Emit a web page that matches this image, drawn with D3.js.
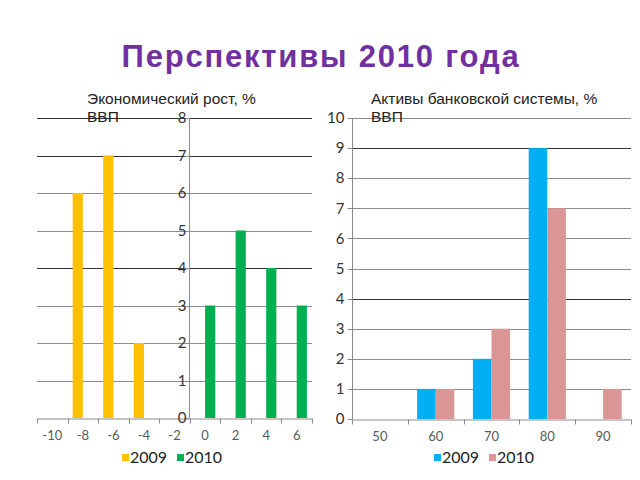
<!DOCTYPE html>
<html>
<head>
<meta charset="utf-8">
<script src="https://cdn.jsdelivr.net/npm/d3@7"></script>
<style>
  body { margin: 0; background: #fff; }
  svg text { font-family: Lato, "Open Sans", sans-serif; }
</style>
</head>
<body>
<div id="chart"></div>
<script>
// Economic growth histogram
var growthCats = ["-10", "-8", "-6", "-4", "-2", "0", "2", "4", "6"];
var growth2009 = [0, 6, 7, 2, 0, 0, 0, 0, 0];
var growth2010 = [0, 0, 0, 0, 0, 3, 5, 4, 3];
var growthTicks = [0, 1, 2, 3, 4, 5, 6, 7, 8];

// Bank assets histogram
var assetCats = ["50", "60", "70", "80", "90"];
var assets2009 = [0, 1, 2, 9, 0];
var assets2010 = [0, 1, 3, 7, 1];
var assetTicks = [0, 1, 2, 3, 4, 5, 6, 7, 8, 9, 10];

var seriesNames = ["2009", "2010"];

var width = 640, height = 480;

var svg = d3.select("#chart").append("svg")
    .attr("width", width)
    .attr("height", height);

svg.append("text")
    .attr("x", 321)
    .attr("y", 67)
    .attr("text-anchor", "middle")
    .style("font-family", "'Liberation Sans', Arial, sans-serif")
    .style("font-weight", "bold")
    .style("font-size", "31px")
    .style("letter-spacing", "1.8px")
    .attr("fill", "#7030a0")
    .text("Перспективы 2010 года");

function drawChart(opt) {
    var g = svg.append("g");

    var x = d3.scaleBand()
        .domain(opt.cats)
        .range([opt.x0, opt.x1]);

    var y = d3.scaleLinear()
        .domain([0, d3.max(opt.ticks)])
        .range([opt.y0, opt.y1]);

    var inner = d3.scaleBand()
        .domain(seriesNames)
        .range([0, x.bandwidth()])
        .paddingInner(0)
        .paddingOuter(0.5);

    // gridlines
    g.append("g").selectAll("line")
        .data(opt.ticks.filter(function(t) { return t > 0; }))
        .enter().append("line")
            .attr("x1", opt.x0)
            .attr("x2", opt.x1)
            .attr("y1", function(d) { return Math.round(y(d)) + 0.5; })
            .attr("y2", function(d) { return Math.round(y(d)) + 0.5; })
            .attr("stroke", function(d) { return opt.dark.indexOf(d) >= 0 ? "#333" : "#8c8c8c"; })
            .attr("stroke-width", 1);

    // bars
    var rows = opt.cats.map(function(c, i) {
        return [{cat: c, s: "2009", v: opt.a[i]}, {cat: c, s: "2010", v: opt.b[i]}];
    });
    g.append("g").selectAll("rect")
        .data(d3.merge(rows).filter(function(d) { return d.v > 0; }))
        .enter().append("rect")
            .attr("x", function(d) { return x(d.cat) + inner(d.s); })
            .attr("width", inner.bandwidth())
            .attr("y", function(d) { return y(d.v); })
            .attr("height", function(d) { return y(0) - y(d.v); })
            .attr("fill", function(d) { return d.s == "2009" ? opt.colors[0] : opt.colors[1]; });

    // x axis
    var xAxis = g.append("g")
        .attr("transform", "translate(0," + (Math.round(y(0)) + 0.5) + ")")
        .call(d3.axisBottom(x).tickSize(0).tickPadding(12));
    xAxis.select(".domain").attr("stroke", "#8c8c8c");
    xAxis.selectAll("text")
        .attr("fill", "#595959")
        .style("font-size", "13px");
    xAxis.selectAll(".boundary")
        .data(d3.range(opt.cats.length + 1))
        .enter().append("line")
            .attr("class", "boundary")
            .attr("x1", function(i) { return Math.round(opt.x0 + i * x.step()) + 0.5; })
            .attr("x2", function(i) { return Math.round(opt.x0 + i * x.step()) + 0.5; })
            .attr("y1", 0)
            .attr("y2", 5)
            .attr("stroke", "#8c8c8c");

    // y axis
    var ax = Math.round(opt.axisX) + 0.5;
    g.append("line")
        .attr("x1", ax).attr("x2", ax)
        .attr("y1", y(d3.max(opt.ticks)))
        .attr("y2", y(0))
        .attr("stroke", "#8c8c8c");
    g.append("g").selectAll("line")
        .data(opt.ticks)
        .enter().append("line")
            .attr("x1", ax - 5).attr("x2", ax)
            .attr("y1", function(d) { return Math.round(y(d)) + 0.5; })
            .attr("y2", function(d) { return Math.round(y(d)) + 0.5; })
            .attr("stroke", "#8c8c8c");
    g.append("g").selectAll("text")
        .data(opt.ticks)
        .enter().append("text")
            .attr("x", ax - opt.labelGap)
            .attr("y", function(d) { return y(d); })
            .attr("dy", "0.35em")
            .attr("text-anchor", "end")
            .style("font-size", "15px")
            .attr("fill", "#333")
            .text(function(d) { return d; });

    // chart title
    var title = g.append("text")
        .attr("x", opt.titleX)
        .attr("y", 104)
        .style("font-family", "'Liberation Sans', Arial, sans-serif")
        .style("font-size", "15.5px")
        .attr("fill", "#222");
    title.append("tspan").attr("x", opt.titleX).text(opt.title[0]);
    title.append("tspan").attr("x", opt.titleX).attr("dy", 18).text(opt.title[1]);

    // legend
    var leg = g.append("g")
        .attr("transform", "translate(" + opt.legendX + ",463)");
    seriesNames.forEach(function(s, i) {
        var lx = i * 55;
        leg.append("rect")
            .attr("x", lx).attr("y", -9)
            .attr("width", 7).attr("height", 7)
            .attr("fill", opt.colors[i]);
        leg.append("text")
            .attr("x", lx + 8)
            .attr("y", 0)
            .style("font-size", "16px")
            .attr("fill", "#222")
            .text(s);
    });
}

drawChart({
    cats: growthCats, a: growth2009, b: growth2010, ticks: growthTicks,
    x0: 37, x1: 312, y0: 418, y1: 118,
    axisX: 189, labelGap: 3, dark: [4, 7, 8],
    colors: ["#ffc000", "#00b050"],
    title: ["Экономический рост, %", "ВВП"], titleX: 87,
    legendX: 122
});

drawChart({
    cats: assetCats, a: assets2009, b: assets2010, ticks: assetTicks,
    x0: 352, x1: 631, y0: 419, y1: 118,
    axisX: 352, labelGap: 8, dark: [4, 9],
    colors: ["#00b0f0", "#d99694"],
    title: ["Активы банковской системы, %", "ВВП"], titleX: 371,
    legendX: 434
});
</script>
</body>
</html>
